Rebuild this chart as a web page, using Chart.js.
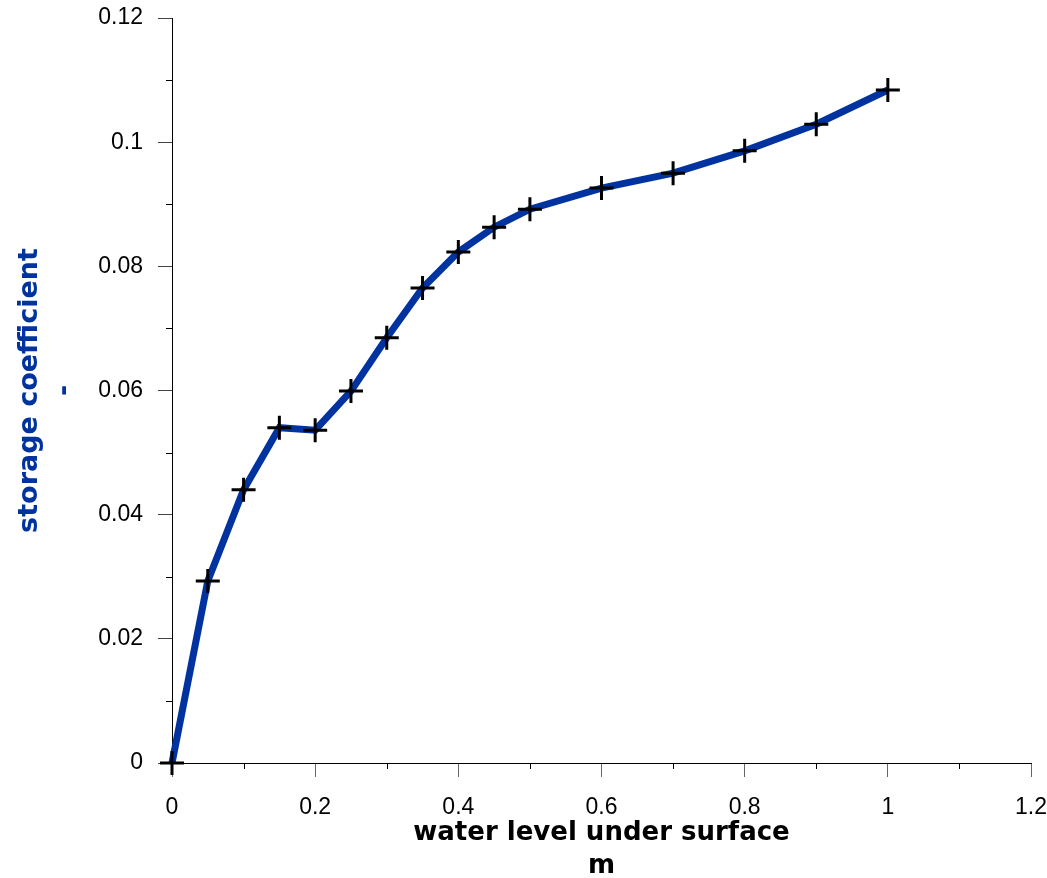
<!DOCTYPE html>
<html>
<head>
<meta charset="utf-8">
<script src="https://cdn.jsdelivr.net/npm/chart.js@4"></script>
<style>
  html, body { margin: 0; padding: 0; background: #fff; }
  #wrap { width: 1047px; height: 878px; }
</style>
</head>
<body>
<div id="wrap"><canvas id="storageChart"></canvas></div>
<script>
// data
const waterLevel = [0, 0.05, 0.1, 0.15, 0.2, 0.25, 0.3, 0.35, 0.4, 0.45, 0.5, 0.6, 0.7, 0.8, 0.9, 1.0];
const storageCoeff = [0, 0.0293, 0.044, 0.054, 0.0536, 0.0599, 0.0685, 0.0765, 0.0823, 0.0863, 0.0892, 0.0926, 0.0950, 0.0986, 0.1029, 0.1084];
const xMinorTicks = [0.1, 0.3, 0.5, 0.7, 0.9, 1.1];
const yMinorTicks = [0.01, 0.03, 0.05, 0.07, 0.09, 0.11];

// minor ticks are not built in, draw them at the scale positions
const minorTicks = {
    id: 'minorTicks',
    afterDraw(chart) {
        const ctx = chart.ctx;
        const xs = chart.scales.x;
        const ys = chart.scales.y;
        ctx.save();
        ctx.strokeStyle = '#000';
        ctx.lineWidth = 1;
        ctx.beginPath();
        xMinorTicks.forEach(v => {
            const px = Math.round(xs.getPixelForValue(v)) + 0.5;
            ctx.moveTo(px, ys.bottom);
            ctx.lineTo(px, ys.bottom + 6);
        });
        yMinorTicks.forEach(v => {
            const py = Math.round(ys.getPixelForValue(v)) + 0.5;
            ctx.moveTo(xs.left, py);
            ctx.lineTo(xs.left - 6, py);
        });
        ctx.stroke();
        ctx.restore();
    }
};

const ctx = document.getElementById('storageChart').getContext('2d');
new Chart(ctx, {
    type: 'line',
    data: {
        labels: waterLevel,
        datasets: [{
            data: waterLevel.map((x, i) => ({ x: x, y: storageCoeff[i] })),
            borderColor: '#0033A0',
            borderWidth: 7,
            pointStyle: 'cross',
            pointRadius: 12,
            pointBorderColor: '#000',
            pointBorderWidth: 3,
            fill: false,
            tension: 0,
            clip: false
        }]
    },
    plugins: [minorTicks],
    options: {
        responsive: true,
        maintainAspectRatio: false,
        animation: false,
        layout: { padding: { top: 18, right: 16, left: 0, bottom: 0 } },
        plugins: {
            legend: { display: false },
            tooltip: { enabled: false }
        },
        scales: {
            x: {
                type: 'linear',
                min: 0,
                max: 1.2,
                border: { display: true, color: '#000', width: 1 },
                grid: { drawOnChartArea: false, drawTicks: true, tickLength: 14, tickColor: '#666' },
                ticks: {
                    stepSize: 0.2,
                    padding: 17,
                    color: '#000',
                    font: { family: 'Liberation Sans, Arial', size: 23 },
                    maxRotation: 0,
                    callback: v => Math.round(v * 10) / 10
                },
                title: {
                    display: true,
                    text: ['water level under surface', 'm'],
                    color: '#000',
                    font: { family: 'DejaVu Sans', size: 26, weight: 'bold', lineHeight: 1.27 },
                    padding: { top: 0, bottom: -5 }
                },
                afterFit(scale) {
                    scale.height = 115;
                    scale.paddingLeft = 0;
                    scale.paddingRight = 0;
                }
            },
            y: {
                type: 'linear',
                min: 0,
                max: 0.12,
                border: { display: true, color: '#000', width: 1 },
                grid: { drawOnChartArea: false, drawTicks: true, tickLength: 14, tickColor: '#444' },
                ticks: {
                    stepSize: 0.02,
                    padding: 15,
                    color: '#000',
                    font: { family: 'Liberation Sans, Arial', size: 23 },
                    callback: v => Math.round(v * 100) / 100
                },
                title: {
                    display: true,
                    text: ['storage coefficient', '-'],
                    color: '#0033A0',
                    font: { family: 'DejaVu Sans', size: 27, weight: 'bold', lineHeight: 1.3 },
                    padding: { top: 12, bottom: 0 }
                },
                afterFit(scale) {
                    scale.width = 172;
                    scale.paddingTop = 0;
                    scale.paddingBottom = 0;
                }
            }
        }
    }
});
</script>
</body>
</html>
